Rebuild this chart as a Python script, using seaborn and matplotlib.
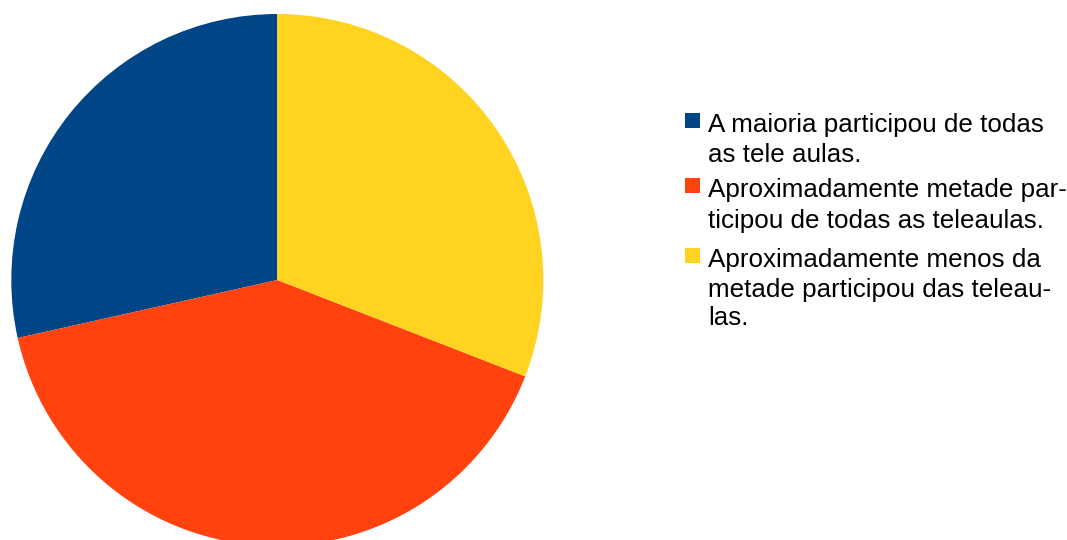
import matplotlib.pyplot as plt
import seaborn as sns

sns.set_theme(style="white")
plt.rcParams['font.family'] = ['Liberation Sans', 'DejaVu Sans']

# dados do grafico (percentual aproximado)
categorias = [
    "A maioria participou de todas\nas tele aulas.",
    "Aproximadamente metade par-\nticipou de todas as teleaulas.",
    "Aproximadamente menos da\nmetade participou das teleau-\nlas.",
]
valores = [28.5, 40.6, 30.9]
cores = ["#004586", "#ff420e", "#ffd320"]

W, H = 1067, 540
fig = plt.figure(figsize=(W / 100, H / 100), dpi=100)

cx, cy, r = 277.3, 280, 266
ax = fig.add_axes([(cx - r) / W, (H - cy - r) / H, 2 * r / W, 2 * r / H])
ax.pie(valores, colors=sns.color_palette(cores), startangle=90, counterclock=True,
       wedgeprops=dict(linewidth=0))
ax.set_xlim(-1, 1)
ax.set_ylim(-1, 1)
ax.set_aspect('equal')
ax.axis('off')

# legenda manual
baselines = [[132, 162], [197, 228], [267, 297, 325]]
for label, cor, ys in zip(categorias, cores, baselines):
    linhas = label.split("\n")
    fig.patches.append(plt.Rectangle((685 / W, 1 - (ys[0] - 4) / H), 15 / W, 15 / H,
                                     transform=fig.transFigure, facecolor=cor,
                                     linewidth=0))
    for linha, y in zip(linhas, ys):
        fig.text(708 / W, 1 - y / H, linha, fontsize=18.7, va='baseline',
                 ha='left', color='black')

fig.savefig("out.png", dpi=100)
